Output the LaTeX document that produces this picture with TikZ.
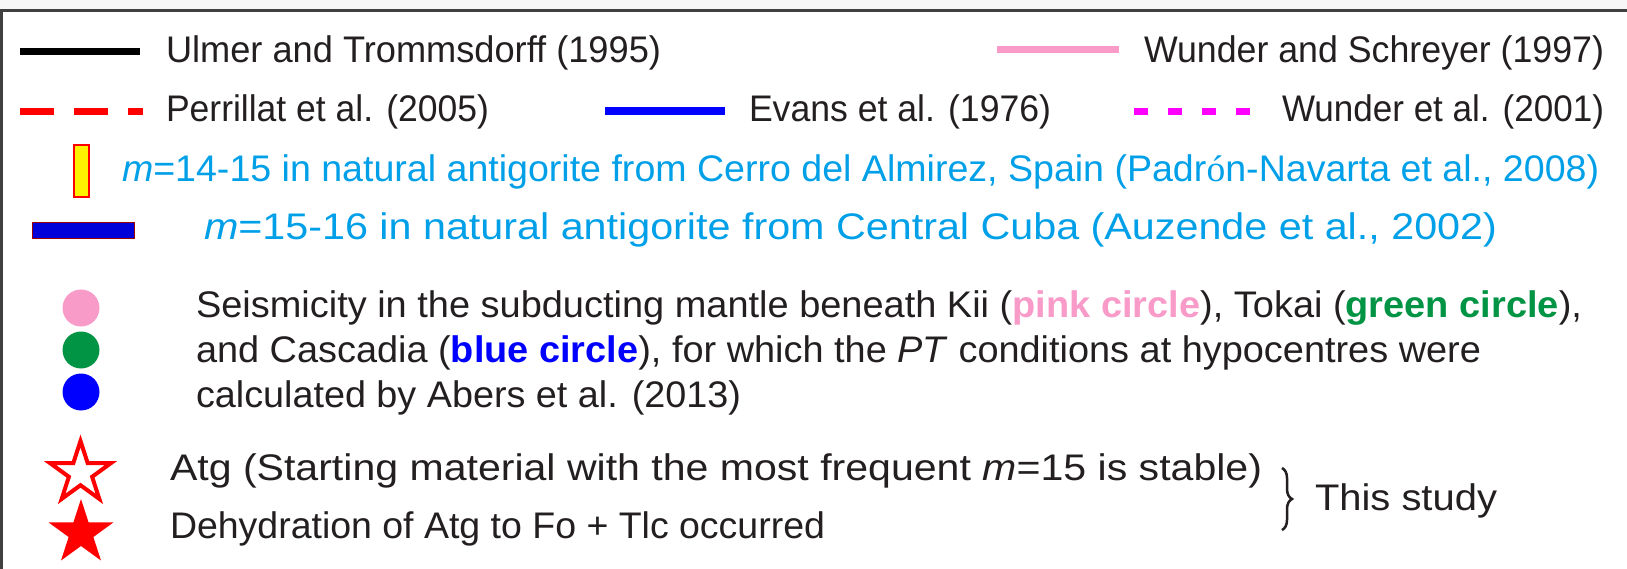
\documentclass[tikz,border=0pt]{standalone}
\usepackage{fontspec}
\setmainfont{Liberation Sans}
\newfontfamily\serifo{Liberation Serif}
\usepackage{graphicx}
\usetikzlibrary{shapes.geometric,decorations.pathreplacing}
\definecolor{ink}{HTML}{231F20}
\definecolor{skyb}{HTML}{00A0E9}
\definecolor{pinkc}{HTML}{F99BC8}
\definecolor{greenc}{HTML}{009444}
\definecolor{bluec}{HTML}{0000FF}
\definecolor{magc}{HTML}{FF00FF}
\definecolor{redc}{HTML}{FF0000}
\definecolor{framec}{HTML}{404040}
\newcommand\fitto[2]{\resizebox{#1pt}{\height}{#2}}
\begin{document}
\begin{tikzpicture}[x=1pt,y=-1pt,
  txt/.style={anchor=base west, inner sep=0pt, outer sep=0pt, font=\fontsize{37}{44}\selectfont, text=ink},
  btxt/.style={txt, text=skyb},
  legline/.style={line width=#1},
  dot/.style={circle, inner sep=0pt, minimum size=37pt},
  starshape/.style={star, star points=5, star point ratio=2.618, inner sep=0pt, minimum size=#1}
]
\useasboundingbox (0,0) rectangle (1627,569);
\fill[white] (0,0) rectangle (1627,569);
\fill[gray!6] (0,0) rectangle (1627,9);
% frame
\coordinate (fa) at (0,10.5);
\coordinate (fb) at (1627,10.5);
\coordinate (fc) at (1.5,10.5);
\coordinate (fd) at (1.5,569);
\draw[framec, line width=2.5pt] (fa) -- (fb);
\draw[framec, line width=2.5pt] (fc) -- (fd);

% row 1
\coordinate (k1) at (20,52); \coordinate (k2) at (140,52);
\draw[black, legline=7pt] (k1) -- (k2);
\node[txt] (tulm) at (166,63) {\fitto{495}{Ulmer and Trommsdorff (1995)}};
\coordinate (p1) at (997,49.5); \coordinate (p2) at (1119,49.5);
\draw[pinkc, legline=7pt] (p1) -- (p2);
\node[txt] (twsc) at (1144,63) {\fitto{460}{Wunder and Schreyer (1997)}};

% row 2
\coordinate (r1) at (20,112); \coordinate (r2) at (143,112);
\draw[redc, legline=7pt, dash pattern=on 34pt off 20pt] (r1) -- (r2);
\node[txt] (tper) at (166,122) {\fitto{323}{Perrillat et al. (2005)}};
\coordinate (b1) at (605,111.5); \coordinate (b2) at (725,111.5);
\draw[bluec, legline=8pt] (b1) -- (b2);
\node[txt] (teva) at (749,122) {\fitto{302}{Evans et al. (1976)}};
\coordinate (m1) at (1134,112); \coordinate (m2) at (1251,112);
\draw[magc, legline=7pt, dash pattern=on 14pt off 20pt] (m1) -- (m2);
\node[txt] (twun) at (1282,122) {\fitto{322}{Wunder et al. (2001)}};

% row 3
\node[draw=redc, fill=yellow, line width=1.5pt, inner sep=0pt, minimum width=15pt, minimum height=52pt] (yrect) at (81.5,171) {};
\node[btxt] (tcer) at (122,182) {\fitto{1477}{\textit{m}=14-15 in natural antigorite from Cerro del Almirez, Spain (Padr{\serifo ó}n-Navarta et al., 2008)}};

% row 4
\node[draw=red!60!black, fill=blue!85!black, line width=1pt, inner sep=0pt, minimum width=102pt, minimum height=16pt] (brect) at (83,231) {};
\node[btxt] (tcub) at (204,240) {\fitto{1293}{\textit{m}=15-16 in natural antigorite from Central Cuba (Auzende et al., 2002)}};

% row 5
\node[dot, fill=pinkc] (cpink) at (81,308) {};
\node[dot, fill=greenc] (cgreen) at (81,350) {};
\node[dot, fill=bluec] (cblue) at (81,392) {};
\node[txt] (ts1) at (196,317) {\fitto{1386}{Seismicity in the subducting mantle beneath Kii (\textcolor{pinkc}{\textbf{pink circle}}), Tokai (\textcolor{greenc}{\textbf{green circle}}),}};
\node[txt] (ts2) at (196,362) {\fitto{1285}{and Cascadia (\textcolor{bluec}{\textbf{blue circle}}), for which the \textit{PT} conditions at hypocentres were}};
\node[txt] (ts3) at (196,407) {\fitto{545}{calculated by Abers et al. (2013)}};

% row 6
\node[starshape=64pt, draw=redc, fill=white, line width=4pt] (sopen) at (80.5,473) {};
\node[starshape=68pt, fill=redc] (sfull) at (81,533) {};
\node[txt] (tatg) at (170,480) {\fitto{1092}{Atg (Starting material with the most frequent \textit{m}=15 is stable)}};
\node[txt] (tdeh) at (170,538) {\fitto{655}{Dehydration of Atg to Fo + Tlc occurred}};
\coordinate (br1) at (1282,468); \coordinate (br2) at (1282,530);
\draw[ink, line width=2.5pt, decorate, decoration={brace, amplitude=10pt}] (br1) -- (br2);
\node[txt] (tthis) at (1315,510) {\fitto{182}{This study}};
\end{tikzpicture}
\end{document}
